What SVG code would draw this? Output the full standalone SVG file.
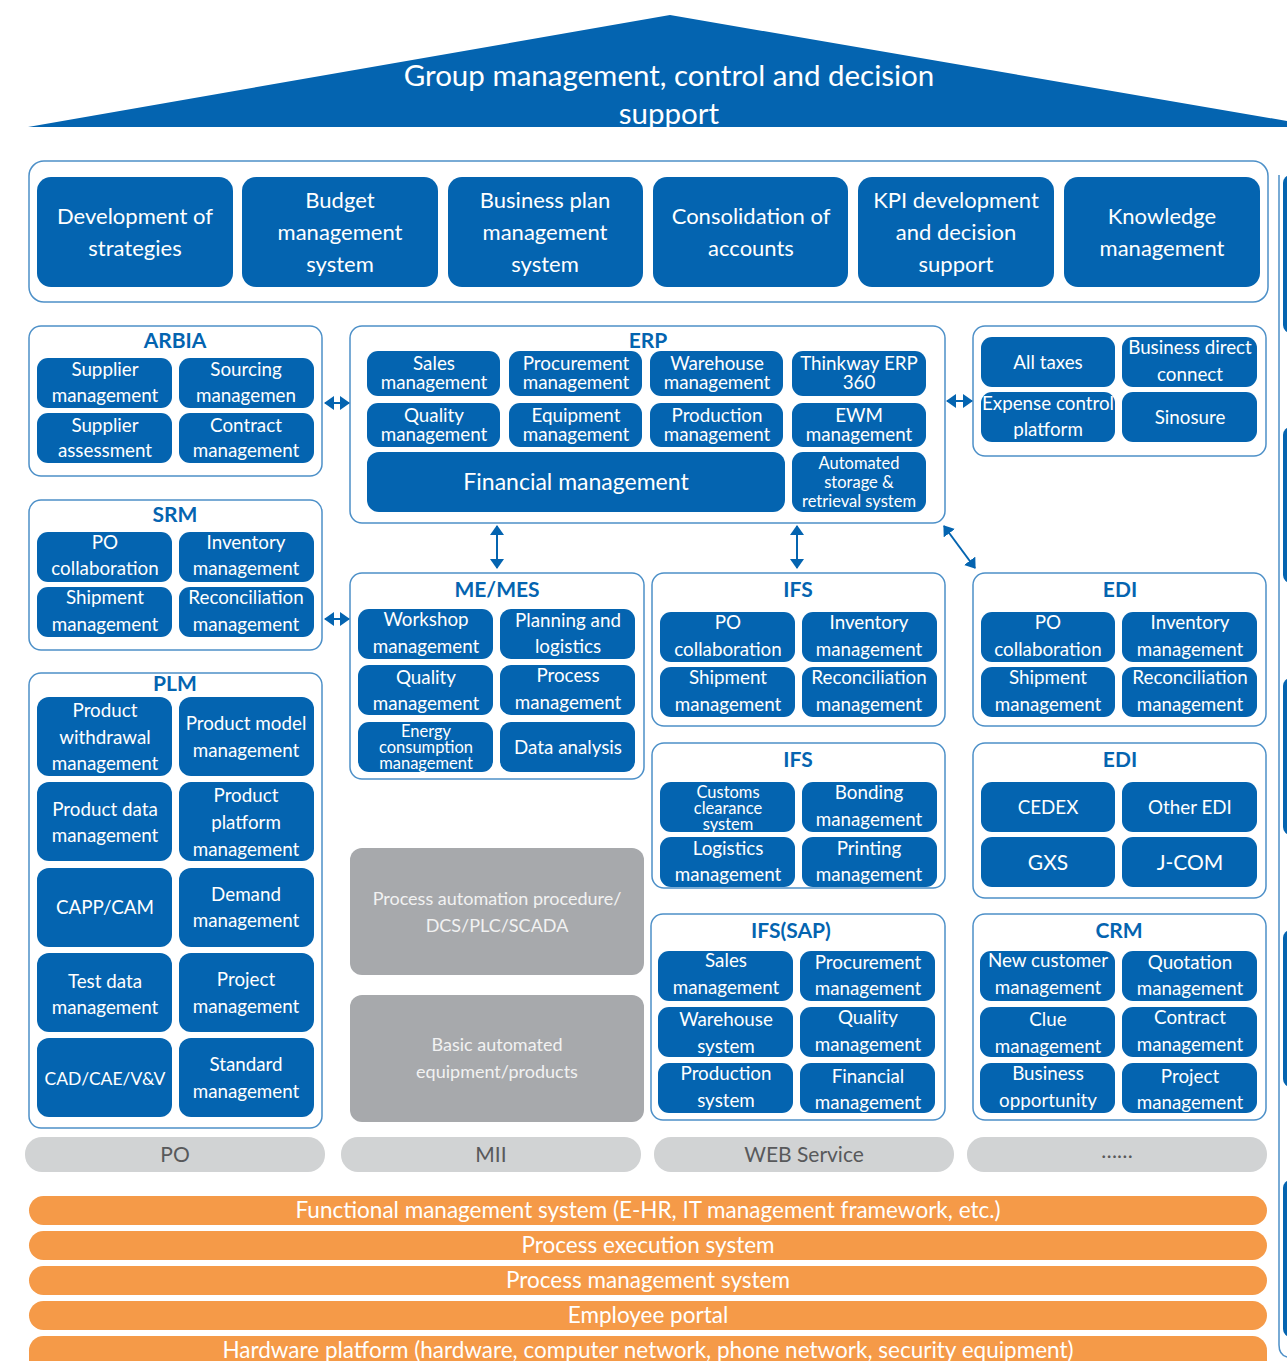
<svg xmlns="http://www.w3.org/2000/svg" width="1287" height="1361" viewBox="0 0 1287 1361">
<style>
text{font-family:Lato,"Liberation Sans",sans-serif;text-anchor:middle}
.c{fill:#fff;stroke:#4d90c8;stroke-width:1.5}
.b{fill:#0464b0}
.t{fill:#fff;font-size:18.8px}
.ts{fill:#fff;font-size:16.5px}
.tl{fill:#fff;font-size:22px}
.h{fill:#0464b0;font-size:21px;font-weight:bold}
.g{fill:#a7a9ac}
.gt{fill:#f2f2f2;font-size:18px}
.gb{fill:#d1d3d4}
.gbt{fill:#58595b;font-size:21px}
.o{fill:#f59a48}
.ot{fill:#fff;font-size:22.5px}
.a{stroke:#0464b0;stroke-width:2;fill:none}
</style>
<defs>
<marker id="ah" viewBox="0 0 10 14" refX="9" refY="7" markerWidth="10" markerHeight="14" markerUnits="userSpaceOnUse" orient="auto-start-reverse"><path d="M0,0L10,7L0,14z" fill="#0464b0"/></marker>
</defs>

<g id="top">
<polygon points="28,127 670,15 1287,121 1287,127" fill="#0464b0"/>
<text x="669" y="86" style="fill:#fff;font-size:29.5px">Group management, control and decision</text>
<text x="669" y="124" style="fill:#fff;font-size:29.5px">support</text>
</g>

<g id="rightstrip">
<path d="M1279,175 L1279,1345 Q1279,1355 1287,1357" class="a" style="stroke:#4d90c8;stroke-width:1.5"/>
<rect x="1283" y="175" width="20" height="158" rx="8" class="b"/>
<rect x="1283" y="427" width="20" height="156" rx="8" class="b"/>
<rect x="1283" y="678" width="20" height="157" rx="8" class="b"/>
<rect x="1283" y="930" width="20" height="157" rx="8" class="b"/>
<rect x="1283" y="1180" width="20" height="157" rx="8" class="b"/>
</g>

<g id="strategy">
<rect x="29" y="161" width="1239" height="141" rx="15" class="c"/>
<g id="s1"><rect x="37" y="177" width="196" height="110" rx="14" class="b"/><text class="tl" x="135" y="224">Development of</text><text class="tl" x="135" y="256">strategies</text></g>
<g id="s2"><rect x="242" y="177" width="196" height="110" rx="14" class="b"/><text class="tl" x="340" y="208">Budget</text><text class="tl" x="340" y="240">management</text><text class="tl" x="340" y="272">system</text></g>
<g id="s3"><rect x="448" y="177" width="195" height="110" rx="14" class="b"/><text class="tl" x="545" y="208">Business plan</text><text class="tl" x="545" y="240">management</text><text class="tl" x="545" y="272">system</text></g>
<g id="s4"><rect x="653" y="177" width="195" height="110" rx="14" class="b"/><text class="tl" x="751" y="224">Consolidation of</text><text class="tl" x="751" y="256">accounts</text></g>
<g id="s5"><rect x="858" y="177" width="196" height="110" rx="14" class="b"/><text class="tl" x="956" y="208">KPI development</text><text class="tl" x="956" y="240">and decision</text><text class="tl" x="956" y="272">support</text></g>
<g id="s6"><rect x="1064" y="177" width="196" height="110" rx="14" class="b"/><text class="tl" x="1162" y="224">Knowledge</text><text class="tl" x="1162" y="256">management</text></g>
</g>

<g id="arbia">
<rect x="29" y="326" width="293" height="150" rx="12" class="c"/>
<text class="h" x="175" y="348">ARBIA</text>
<rect x="37" y="358" width="135" height="50" rx="11" class="b"/><text class="t" x="105" y="376">Supplier</text><text class="t" x="105" y="402">management</text>
<rect x="179" y="358" width="135" height="50" rx="11" class="b"/><text class="t" x="246" y="376">Sourcing</text><text class="t" x="246" y="402">managemen</text>
<rect x="37" y="413" width="135" height="50" rx="11" class="b"/><text class="t" x="105" y="432">Supplier</text><text class="t" x="105" y="457">assessment</text>
<rect x="179" y="413" width="135" height="50" rx="11" class="b"/><text class="t" x="246" y="432">Contract</text><text class="t" x="246" y="457">management</text>
</g>

<g id="erp">
<rect x="350" y="326" width="595" height="197" rx="12" class="c"/>
<text class="h" x="648" y="348">ERP</text>
<rect x="367" y="351" width="133" height="45" rx="11" class="b"/><text class="t" x="434" y="370">Sales</text><text class="t" x="434" y="389">management</text>
<rect x="509" y="351" width="133" height="45" rx="11" class="b"/><text class="t" x="576" y="370">Procurement</text><text class="t" x="576" y="389">management</text>
<rect x="650" y="351" width="133" height="45" rx="11" class="b"/><text class="t" x="717" y="370">Warehouse</text><text class="t" x="717" y="389">management</text>
<rect x="792" y="351" width="134" height="45" rx="11" class="b"/><text class="t" x="859" y="370">Thinkway ERP</text><text class="t" x="859" y="389">360</text>
<rect x="367" y="403" width="133" height="44" rx="11" class="b"/><text class="t" x="434" y="422">Quality</text><text class="t" x="434" y="441">management</text>
<rect x="509" y="403" width="133" height="44" rx="11" class="b"/><text class="t" x="576" y="422">Equipment</text><text class="t" x="576" y="441">management</text>
<rect x="650" y="403" width="133" height="44" rx="11" class="b"/><text class="t" x="717" y="422">Production</text><text class="t" x="717" y="441">management</text>
<rect x="792" y="403" width="134" height="44" rx="11" class="b"/><text class="t" x="859" y="422">EWM</text><text class="t" x="859" y="441">management</text>
<rect x="367" y="452" width="418" height="60" rx="12" class="b"/><text class="tl" x="576" y="490" style="font-size:23px">Financial management</text>
<rect x="792" y="452" width="134" height="60" rx="11" class="b"/><text class="ts" x="859" y="469">Automated</text><text class="ts" x="859" y="488">storage &amp;</text><text class="ts" x="859" y="507">retrieval system</text>
</g>

<g id="taxes">
<rect x="973" y="326" width="293" height="130" rx="12" class="c"/>
<rect x="981" y="337" width="134" height="50" rx="11" class="b"/><text class="t" x="1048" y="369">All taxes</text>
<rect x="1122" y="337" width="135" height="50" rx="11" class="b"/><text class="t" x="1190" y="354">Business direct</text><text class="t" x="1190" y="381">connect</text>
<rect x="981" y="392" width="134" height="50" rx="11" class="b"/><text class="t" x="1048" y="410">Expense control</text><text class="t" x="1048" y="436">platform</text>
<rect x="1122" y="392" width="135" height="50" rx="11" class="b"/><text class="t" x="1190" y="424">Sinosure</text>
</g>

<g id="srm">
<rect x="29" y="500" width="293" height="150" rx="12" class="c"/>
<text class="h" x="175" y="522">SRM</text>
<rect x="37" y="532" width="135" height="50" rx="11" class="b"/><text class="t" x="105" y="549">PO</text><text class="t" x="105" y="575">collaboration</text>
<rect x="179" y="532" width="135" height="50" rx="11" class="b"/><text class="t" x="246" y="549">Inventory</text><text class="t" x="246" y="575">management</text>
<rect x="37" y="587" width="135" height="50" rx="11" class="b"/><text class="t" x="105" y="604">Shipment</text><text class="t" x="105" y="631">management</text>
<rect x="179" y="587" width="135" height="50" rx="11" class="b"/><text class="t" x="246" y="604">Reconciliation</text><text class="t" x="246" y="631">management</text>
</g>

<g id="plm">
<rect x="29" y="673" width="293" height="455" rx="12" class="c"/>
<text class="h" x="175" y="691">PLM</text>
<rect x="37" y="697" width="135" height="79" rx="12" class="b"/><text class="t" x="105" y="717">Product</text><text class="t" x="105" y="744">withdrawal</text><text class="t" x="105" y="770">management</text>
<rect x="179" y="697" width="135" height="79" rx="12" class="b"/><text class="t" x="246" y="730">Product model</text><text class="t" x="246" y="757">management</text>
<rect x="37" y="782" width="135" height="79" rx="12" class="b"/><text class="t" x="105" y="816">Product data</text><text class="t" x="105" y="842">management</text>
<rect x="179" y="782" width="135" height="79" rx="12" class="b"/><text class="t" x="246" y="802">Product</text><text class="t" x="246" y="829">platform</text><text class="t" x="246" y="856">management</text>
<rect x="37" y="868" width="135" height="79" rx="12" class="b"/><text class="t" x="105" y="914">CAPP/CAM</text>
<rect x="179" y="868" width="135" height="79" rx="12" class="b"/><text class="t" x="246" y="901">Demand</text><text class="t" x="246" y="927">management</text>
<rect x="37" y="953" width="135" height="79" rx="12" class="b"/><text class="t" x="105" y="988">Test data</text><text class="t" x="105" y="1014">management</text>
<rect x="179" y="953" width="135" height="79" rx="12" class="b"/><text class="t" x="246" y="986">Project</text><text class="t" x="246" y="1013">management</text>
<rect x="37" y="1038" width="135" height="79" rx="12" class="b"/><text class="t" x="105" y="1085" style="font-size:17.5px">CAD/CAE/V&amp;V</text>
<rect x="179" y="1038" width="135" height="79" rx="12" class="b"/><text class="t" x="246" y="1071">Standard</text><text class="t" x="246" y="1098">management</text>
</g>

<g id="mes">
<rect x="350" y="573" width="294" height="206" rx="12" class="c"/>
<text class="h" x="497" y="597">ME/MES</text>
<rect x="358" y="609" width="135" height="50" rx="11" class="b"/><text class="t" x="426" y="626">Workshop</text><text class="t" x="426" y="653">management</text>
<rect x="500" y="609" width="135" height="50" rx="11" class="b"/><text class="t" x="568" y="627">Planning and</text><text class="t" x="568" y="653">logistics</text>
<rect x="358" y="665" width="135" height="50" rx="11" class="b"/><text class="t" x="426" y="684">Quality</text><text class="t" x="426" y="710">management</text>
<rect x="500" y="665" width="135" height="50" rx="11" class="b"/><text class="t" x="568" y="682">Process</text><text class="t" x="568" y="709">management</text>
<rect x="358" y="722" width="135" height="50" rx="11" class="b"/><text class="ts" x="426" y="737">Energy</text><text class="ts" x="426" y="753">consumption</text><text class="ts" x="426" y="769">management</text>
<rect x="500" y="722" width="135" height="50" rx="11" class="b"/><text class="t" x="568" y="754">Data analysis</text>
</g>

<g id="ifs1">
<rect x="652" y="573" width="293" height="153" rx="12" class="c"/>
<text class="h" x="798" y="597">IFS</text>
<rect x="660" y="612" width="135" height="50" rx="11" class="b"/><text class="t" x="728" y="629">PO</text><text class="t" x="728" y="656">collaboration</text>
<rect x="802" y="612" width="135" height="50" rx="11" class="b"/><text class="t" x="869" y="629">Inventory</text><text class="t" x="869" y="656">management</text>
<rect x="660" y="667" width="135" height="50" rx="11" class="b"/><text class="t" x="728" y="684">Shipment</text><text class="t" x="728" y="711">management</text>
<rect x="802" y="667" width="135" height="50" rx="11" class="b"/><text class="t" x="869" y="684">Reconciliation</text><text class="t" x="869" y="711">management</text>
</g>

<g id="edi1">
<rect x="973" y="573" width="293" height="153" rx="12" class="c"/>
<text class="h" x="1120" y="597">EDI</text>
<rect x="981" y="612" width="134" height="50" rx="11" class="b"/><text class="t" x="1048" y="629">PO</text><text class="t" x="1048" y="656">collaboration</text>
<rect x="1122" y="612" width="135" height="50" rx="11" class="b"/><text class="t" x="1190" y="629">Inventory</text><text class="t" x="1190" y="656">management</text>
<rect x="981" y="667" width="134" height="50" rx="11" class="b"/><text class="t" x="1048" y="684">Shipment</text><text class="t" x="1048" y="711">management</text>
<rect x="1122" y="667" width="135" height="50" rx="11" class="b"/><text class="t" x="1190" y="684">Reconciliation</text><text class="t" x="1190" y="711">management</text>
</g>

<g id="ifs2">
<rect x="652" y="743" width="293" height="145" rx="12" class="c"/>
<text class="h" x="798" y="767">IFS</text>
<rect x="660" y="782" width="135" height="50" rx="11" class="b"/><text class="ts" x="728" y="798">Customs</text><text class="ts" x="728" y="814">clearance</text><text class="ts" x="728" y="830">system</text>
<rect x="802" y="782" width="135" height="50" rx="11" class="b"/><text class="t" x="869" y="799">Bonding</text><text class="t" x="869" y="826">management</text>
<rect x="660" y="837" width="135" height="50" rx="11" class="b"/><text class="t" x="728" y="855">Logistics</text><text class="t" x="728" y="881">management</text>
<rect x="802" y="837" width="135" height="50" rx="11" class="b"/><text class="t" x="869" y="855">Printing</text><text class="t" x="869" y="881">management</text>
</g>

<g id="edi2">
<rect x="973" y="743" width="293" height="155" rx="12" class="c"/>
<text class="h" x="1120" y="767">EDI</text>
<rect x="981" y="782" width="134" height="50" rx="11" class="b"/><text class="t" x="1048" y="814">CEDEX</text>
<rect x="1122" y="782" width="135" height="50" rx="11" class="b"/><text class="t" x="1190" y="814">Other EDI</text>
<rect x="981" y="837" width="134" height="50" rx="11" class="b"/><text class="t" x="1048" y="870" style="font-size:21px">GXS</text>
<rect x="1122" y="837" width="135" height="50" rx="11" class="b"/><text class="t" x="1190" y="870" style="font-size:21px">J-COM</text>
</g>

<g id="dcs">
<rect x="350" y="848" width="294" height="127" rx="12" class="g"/>
<text class="gt" x="497" y="905">Process automation procedure/</text><text class="gt" x="497" y="932">DCS/PLC/SCADA</text>
</g>
<g id="basic">
<rect x="350" y="995" width="294" height="127" rx="12" class="g"/>
<text class="gt" x="497" y="1051">Basic automated</text><text class="gt" x="497" y="1078">equipment/products</text>
</g>

<g id="sap">
<rect x="651" y="914" width="294" height="206" rx="12" class="c"/>
<text class="h" x="791" y="938">IFS(SAP)</text>
<rect x="658" y="951" width="135" height="50" rx="11" class="b"/><text class="t" x="726" y="967">Sales</text><text class="t" x="726" y="994">management</text>
<rect x="800" y="951" width="135" height="50" rx="11" class="b"/><text class="t" x="868" y="969">Procurement</text><text class="t" x="868" y="995">management</text>
<rect x="658" y="1007" width="135" height="50" rx="11" class="b"/><text class="t" x="726" y="1026">Warehouse</text><text class="t" x="726" y="1053">system</text>
<rect x="800" y="1007" width="135" height="50" rx="11" class="b"/><text class="t" x="868" y="1024">Quality</text><text class="t" x="868" y="1051">management</text>
<rect x="658" y="1063" width="135" height="50" rx="11" class="b"/><text class="t" x="726" y="1080">Production</text><text class="t" x="726" y="1107">system</text>
<rect x="800" y="1063" width="135" height="50" rx="11" class="b"/><text class="t" x="868" y="1083">Financial</text><text class="t" x="868" y="1109">management</text>
</g>

<g id="crm">
<rect x="973" y="914" width="293" height="206" rx="12" class="c"/>
<text class="h" x="1119" y="938">CRM</text>
<rect x="980" y="951" width="135" height="50" rx="11" class="b"/><text class="t" x="1048" y="967">New customer</text><text class="t" x="1048" y="994">management</text>
<rect x="1122" y="951" width="135" height="50" rx="11" class="b"/><text class="t" x="1190" y="969">Quotation</text><text class="t" x="1190" y="995">management</text>
<rect x="980" y="1007" width="135" height="50" rx="11" class="b"/><text class="t" x="1048" y="1026">Clue</text><text class="t" x="1048" y="1053">management</text>
<rect x="1122" y="1007" width="135" height="50" rx="11" class="b"/><text class="t" x="1190" y="1024">Contract</text><text class="t" x="1190" y="1051">management</text>
<rect x="980" y="1063" width="135" height="50" rx="11" class="b"/><text class="t" x="1048" y="1080">Business</text><text class="t" x="1048" y="1107">opportunity</text>
<rect x="1122" y="1063" width="135" height="50" rx="11" class="b"/><text class="t" x="1190" y="1083">Project</text><text class="t" x="1190" y="1109">management</text>
</g>

<g id="interfaces">
<rect x="25" y="1137" width="300" height="35" rx="17" class="gb"/><text class="gbt" x="175" y="1162">PO</text>
<rect x="341" y="1137" width="300" height="35" rx="17" class="gb"/><text class="gbt" x="491" y="1162">MII</text>
<rect x="654" y="1137" width="300" height="35" rx="17" class="gb"/><text class="gbt" x="804" y="1162">WEB Service</text>
<rect x="967" y="1137" width="300" height="35" rx="17" class="gb"/><text class="gbt" x="1117" y="1158">……</text>
</g>

<g id="platforms">
<rect x="29" y="1196" width="1238" height="29" rx="14.5" class="o"/><text class="ot" x="648" y="1218">Functional management system (E-HR, IT management framework, etc.)</text>
<rect x="29" y="1231" width="1238" height="29" rx="14.5" class="o"/><text class="ot" x="648" y="1253">Process execution system</text>
<rect x="29" y="1266" width="1238" height="29" rx="14.5" class="o"/><text class="ot" x="648" y="1288">Process management system</text>
<rect x="29" y="1301" width="1238" height="29" rx="14.5" class="o"/><text class="ot" x="648" y="1323">Employee portal</text>
<rect x="29" y="1336" width="1238" height="40" rx="14.5" class="o"/><text class="ot" x="648" y="1358">Hardware platform  (hardware, computer network, phone network, security equipment)</text>
</g>

<g id="connectors">
<line x1="325" y1="403" x2="349" y2="403" class="a" marker-start="url(#ah)" marker-end="url(#ah)"/>
<line x1="325" y1="619" x2="349" y2="619" class="a" marker-start="url(#ah)" marker-end="url(#ah)"/>
<line x1="947" y1="401" x2="972" y2="401" class="a" marker-start="url(#ah)" marker-end="url(#ah)"/>
<line x1="497" y1="526" x2="497" y2="568" class="a" marker-start="url(#ah)" marker-end="url(#ah)"/>
<line x1="797" y1="526" x2="797" y2="568" class="a" marker-start="url(#ah)" marker-end="url(#ah)"/>
<line x1="944" y1="526" x2="975" y2="568" class="a" marker-start="url(#ah)" marker-end="url(#ah)"/>
</g>
</svg>
